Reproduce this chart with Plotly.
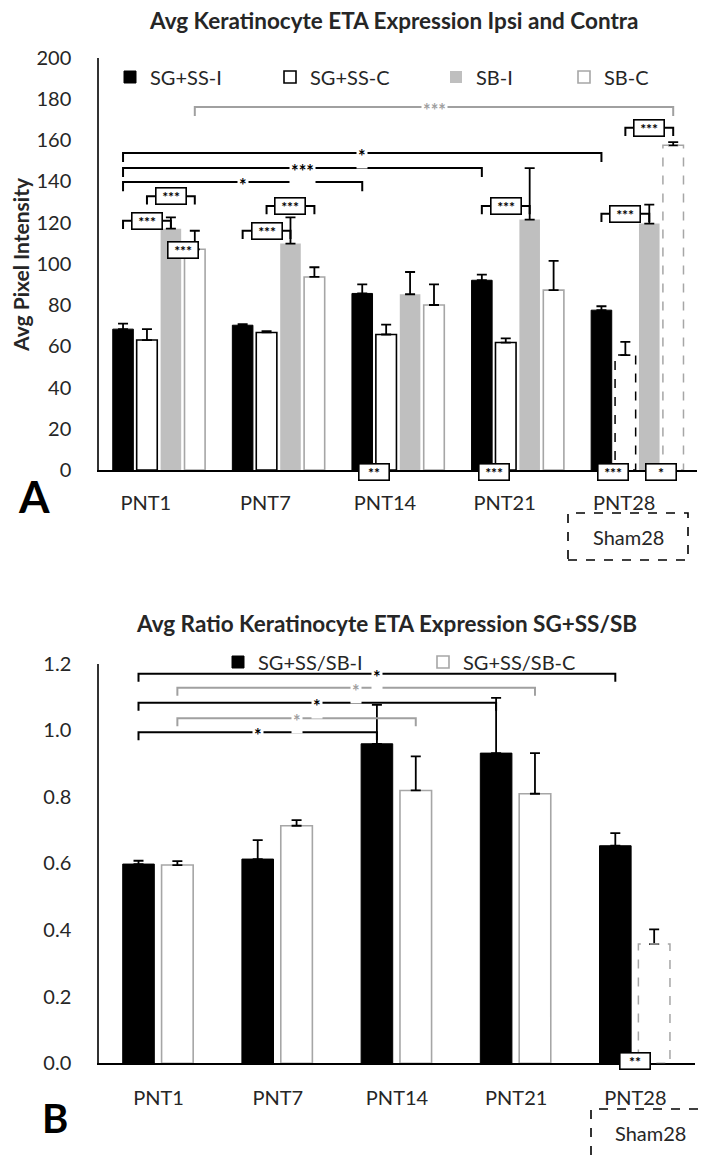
import plotly.graph_objects as go

# ---------------- data ----------------
categories = ["PNT1", "PNT7", "PNT14", "PNT21", "PNT28"]

top_title = "Avg Keratinocyte ETA Expression Ipsi and Contra"
top_ytitle = "Avg Pixel Intensity"
top_names = ["SG+SS-I", "SG+SS-C", "SB-I", "SB-C"]
sgss_i = [68.3, 70.2, 85.6, 92.0, 77.5]
sgss_i_err = [2.7, 0.5, 4.4, 2.7, 1.9]
sgss_c = [63.0, 66.7, 65.7, 61.8, 55.7]
sgss_c_err = [5.3, 0.6, 4.8, 2.0, 6.4]
sb_i = [117.0, 109.8, 85.2, 121.4, 119.5]
sb_i_err = [5.5, 12.7, 10.8, 25.0, 9.2]
sb_c = [107.0, 93.6, 80.0, 87.2, 157.4]
sb_c_err = [9.0, 4.7, 10.0, 14.2, 1.6]
top_yticks = [0, 20, 40, 60, 80, 100, 120, 140, 160, 180, 200]

bot_title = "Avg Ratio Keratinocyte ETA Expression SG+SS/SB"
bot_names = ["SG+SS/SB-I", "SG+SS/SB-C"]
ratio_i = [0.598, 0.613, 0.959, 0.931, 0.653]
ratio_i_err = [0.010, 0.057, 0.117, 0.166, 0.038]
ratio_c = [0.595, 0.713, 0.819, 0.809, 0.358]
ratio_c_err = [0.012, 0.017, 0.102, 0.122, 0.044]
bot_yticks = [0.0, 0.2, 0.4, 0.6, 0.8, 1.0, 1.2]

sham_label = "Sham28"
sham_index = 4  # PNT28 control bars are Sham28

# significance: (cat_from, series_from, cat_to, series_to, y, label, colour)
top_long = [
    (0, 3, 4, 3, 176.0, "***", "grey"),
    (0, 0, 4, 0, 153.7, "*", "black"),
    (0, 0, 3, 0, 146.4, "***", "black"),
    (0, 0, 2, 0, 139.6, "*", "black"),
]
# (cat, series_a, series_b, y, label, legs)
top_boxes = [
    (0, 0, 2, 120.8, "***", True),
    (0, 1, 3, 132.7, "***", True),
    (0, 2, 3, 106.5, "***", False),
    (1, 0, 2, 116.0, "***", True),
    (1, 1, 3, 128.0, "***", True),
    (3, 0, 2, 128.0, "***", True),
    (4, 0, 2, 124.2, "***", True),
    (4, 1, 3, 165.9, "***", True),
]
# boxes on the axis vs Sham28: (cat, series_a, series_b, label)
top_axis_boxes = [(2, 0, 1, "**"), (3, 0, 1, "***"), (4, 0, 1, "***"), (4, 2, 3, "*")]

bot_long = [
    (0, 0, 4, 0, 1.169, "*", "black"),
    (0, 1, 3, 1, 1.127, "*", "grey"),
    (0, 0, 3, 0, 1.082, "*", "black"),
    (0, 1, 2, 1, 1.036, "*", "grey"),
    (0, 0, 2, 0, 0.994, "*", "black"),
]
bot_axis_boxes = [(4, 0, 1, "**")]

# ---------------- styling / geometry ----------------
PAGE_W, PAGE_H = 714, 1155
PAGE_OFF = 8                      # default body margin of the html page
W, H = PAGE_W - PAGE_OFF, PAGE_H - PAGE_OFF
FONT = "Lato"
TXT = "#262626"
GREY_FILL = "#bfbfbf"
GREY_LINE = "#a6a6a6"
BR_GREY = "#a0a0a0"

TOP_W = 0.172
TOP_OFF = [-0.385, -0.185, 0.015, 0.215]
BOT_W = 0.265
BOT_OFF = [-0.301, 0.025]

TOP_LEG_X = [128, 288, 454, 582]   # legend square left edges (page px)
TOP_LEG_Y = 77
BOT_LEG_X = [236, 441]
BOT_LEG_Y = 662


def fx(p):
    return (p - PAGE_OFF) / W


def fy(p):
    return 1 - (p - PAGE_OFF) / H


top_dom_x = [fx(99), fx(697)]
top_dom_y = [fy(470), fy(57.5)]
bot_dom_x = [fx(99), fx(695)]
bot_dom_y = [fy(1063.3), fy(663.5)]

xs = list(range(len(categories)))
fig = go.Figure()


def err(arr):
    return dict(type="data", array=arr, arrayminus=[0] * len(arr), symmetric=False,
                color="black", thickness=1.8, width=5)


def lw_list(w):
    return [w if i != sham_index else 0 for i in xs]


legend_layouts = {}
leg_n = 0


def legend_slot(x_px, y_px):
    global leg_n
    leg_n += 1
    key = "legend" if leg_n == 1 else f"legend{leg_n}"
    legend_layouts[key] = dict(
        orientation="h", x=fx(x_px - 18), y=fy(y_px), xanchor="left", yanchor="middle",
        font=dict(family=FONT, size=20, color=TXT), bgcolor="rgba(0,0,0,0)",
        itemclick=False, itemdoubleclick=False)
    return key


top_specs = [
    (sgss_i, sgss_i_err, "black", "black", [1] * 5),
    (sgss_c, sgss_c_err, "white", "black", lw_list(1.6)),
    (sb_i, sb_i_err, GREY_FILL, GREY_FILL, [0] * 5),
    (sb_c, sb_c_err, "white", GREY_LINE, lw_list(1.6)),
]
for k, (vals, e, fill, lc, lw) in enumerate(top_specs):
    fig.add_trace(go.Bar(
        x=xs, y=vals, width=TOP_W, offset=TOP_OFF[k], name=top_names[k],
        marker=dict(color=fill, line=dict(color=lc, width=lw)),
        error_y=err(e), xaxis="x", yaxis="y",
        legend=legend_slot(TOP_LEG_X[k], TOP_LEG_Y)))

bot_specs = [
    (ratio_i, ratio_i_err, "black", "black", [1] * 5),
    (ratio_c, ratio_c_err, "white", GREY_LINE, lw_list(1.6)),
]
for k, (vals, e, fill, lc, lw) in enumerate(bot_specs):
    fig.add_trace(go.Bar(
        x=xs, y=vals, width=BOT_W, offset=BOT_OFF[k], name=bot_names[k],
        marker=dict(color=fill, line=dict(color=lc, width=lw)),
        error_y=err(e), xaxis="x2", yaxis="y2",
        legend=legend_slot(BOT_LEG_X[k], BOT_LEG_Y)))

shapes = []
annotations = []


def ann(**kw):
    d = dict(showarrow=False, xanchor="center", yanchor="middle")
    d.update(kw)
    annotations.append(d)


# dashed outlines for Sham28 bars
for vals, off, w, col, xr, yr in [
    (sgss_c, TOP_OFF[1], TOP_W, "black", "x", "y"),
    (sb_c, TOP_OFF[3], TOP_W, GREY_LINE, "x", "y"),
    (ratio_c, BOT_OFF[1], BOT_W, GREY_LINE, "x2", "y2"),
]:
    x0 = sham_index + off
    shapes.append(dict(type="rect", xref=xr, yref=yr, x0=x0, x1=x0 + w, y0=0,
                       y1=vals[sham_index], line=dict(color=col, width=1.5, dash="dash"),
                       fillcolor="rgba(0,0,0,0)", layer="above"))


def center(cat, s, offs, w):
    return cat + offs[s] + w / 2


def long_bracket(spec, offs, w, leg, xr, yr):
    c0, s0, c1, s1, y, lab, col = spec
    colr = BR_GREY if col == "grey" else "black"
    xa, xb = center(c0, s0, offs, w), center(c1, s1, offs, w)
    shapes.append(dict(type="path", xref=xr, yref=yr,
                       path=f"M {xa},{y - leg} L {xa},{y} L {xb},{y} L {xb},{y - leg}",
                       line=dict(color=colr, width=2), layer="above"))
    ann(xref=xr, yref=yr, x=(xa + xb) / 2, y=y, text="<b>" + lab + "</b>",
        bgcolor="white", borderpad=1, font=dict(family=FONT, size=18, color=colr), yshift=-3)


def box(xc, y, lab, xr, yr, yshift=0):
    ann(xref=xr, yref=yr, x=xc, y=y, text="<b>" + lab + "</b>",
        bgcolor="white", bordercolor="black", borderwidth=1.6, borderpad=1,
        width=27, height=13, font=dict(family=FONT, size=14, color="black"), yshift=yshift)


for spec in top_long:
    long_bracket(spec, TOP_OFF, TOP_W, 4.4, "x", "y")
for spec in bot_long:
    long_bracket(spec, BOT_OFF, BOT_W, 0.024, "x2", "y2")

for cat, sa, sb, y, lab, legs in top_boxes:
    xa, xb = center(cat, sa, TOP_OFF, TOP_W), center(cat, sb, TOP_OFF, TOP_W)
    if legs:
        shapes.append(dict(type="path", xref="x", yref="y",
                           path=f"M {xa},{y - 4} L {xa},{y} L {xb},{y} L {xb},{y - 4}",
                           line=dict(color="black", width=2), layer="above"))
    box((xa + xb) / 2, y, lab, "x", "y")

for cat, sa, sb, lab in top_axis_boxes:
    xa, xb = center(cat, sa, TOP_OFF, TOP_W), center(cat, sb, TOP_OFF, TOP_W)
    box((xa + xb) / 2, 0, lab, "x", "y", yshift=-2)
for cat, sa, sb, lab in bot_axis_boxes:
    xa, xb = center(cat, sa, BOT_OFF, BOT_W), center(cat, sb, BOT_OFF, BOT_W)
    box((xa + xb) / 2, 0, lab, "x2", "y2", yshift=2)

# Sham28 dashed boxes
for (x0, x1, y0, y1) in [(568, 688, 513, 560), (591, 709, 1109, 1160)]:
    shapes.append(dict(type="rect", xref="paper", yref="paper", x0=fx(x0), x1=fx(x1),
                       y0=fy(y1), y1=fy(y0), line=dict(color="black", width=1.6, dash="dash")))
ann(xref="paper", yref="paper", x=fx(628), y=fy(537), text=sham_label,
    font=dict(family=FONT, size=20, color=TXT))
ann(xref="paper", yref="paper", x=fx(650), y=fy(1133), text=sham_label,
    font=dict(family=FONT, size=20, color=TXT))

# titles, axis title, panel letters
ann(xref="paper", yref="paper", x=fx(393), y=fy(20), text="<b>" + top_title + "</b>",
    font=dict(family=FONT, size=22.5, color=TXT))
ann(xref="paper", yref="paper", x=fx(386), y=fy(623), text="<b>" + bot_title + "</b>",
    font=dict(family=FONT, size=22.5, color=TXT))
ann(xref="paper", yref="paper", x=fx(21), y=fy(265), text="<b>" + top_ytitle + "</b>",
    textangle=-90, font=dict(family=FONT, size=21, color=TXT))
ann(xref="paper", yref="paper", x=fx(34), y=fy(496), text="<b>A</b>",
    font=dict(family=FONT, size=44, color="black"))
ann(xref="paper", yref="paper", x=fx(55), y=fy(1118), text="<b>B</b>",
    font=dict(family=FONT, size=40, color="black"))

axis_common = dict(showgrid=False, zeroline=False, ticks="", automargin=False,
                   tickfont=dict(family=FONT, size=20, color=TXT))

fig.update_layout(
    width=W, height=H, margin=dict(l=0, r=0, t=0, b=0, pad=0, autoexpand=False),
    paper_bgcolor="white", plot_bgcolor="white", barmode="overlay",
    showlegend=True,
    xaxis=dict(domain=top_dom_x, range=[-0.5, 4.5], tickvals=xs, ticktext=categories,
               showline=True, linecolor="black", linewidth=2, anchor="y",
               ticklabelshift=-13, ticklabelstandoff=14, **axis_common),
    yaxis=dict(domain=top_dom_y, range=[0, 200], tickvals=top_yticks,
               showline=True, linecolor="#333333", linewidth=1.5, anchor="x",
               ticklabelstandoff=22, **axis_common),
    xaxis2=dict(domain=bot_dom_x, range=[-0.5, 4.5], tickvals=xs, ticktext=categories,
                showline=True, linecolor="black", linewidth=2, anchor="y2",
                ticklabelstandoff=16, **axis_common),
    yaxis2=dict(domain=bot_dom_y, range=[0, 1.2], tickvals=bot_yticks, tickformat=".1f",
                showline=True, linecolor="#333333", linewidth=1.5, anchor="x2",
                ticklabelstandoff=22, **axis_common),
    shapes=shapes, annotations=annotations,
    **legend_layouts,
)

fig.write_html("out.html")
